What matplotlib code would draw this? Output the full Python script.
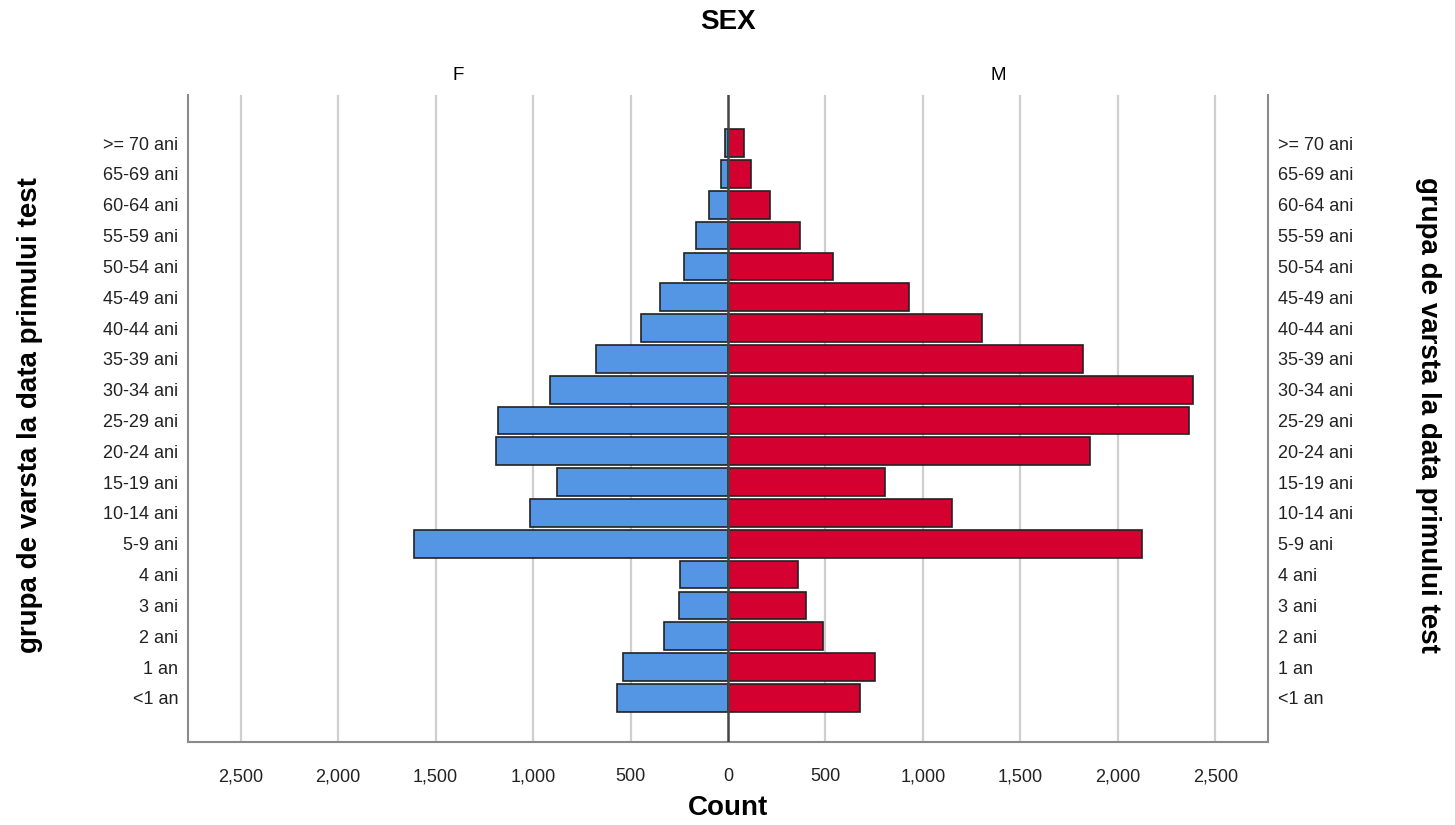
import matplotlib.pyplot as plt, numpy as np

plt.rcParams['font.family'] = ['Liberation Sans', 'DejaVu Sans']

# age groups, bottom to top
groups = ['<1 an', '1 an', '2 ani', '3 ani', '4 ani', '5-9 ani', '10-14 ani', '15-19 ani',
          '20-24 ani', '25-29 ani', '30-34 ani', '35-39 ani', '40-44 ani', '45-49 ani',
          '50-54 ani', '55-59 ani', '60-64 ani', '65-69 ani', '>= 70 ani']
female = [569, 537, 328, 249, 244, 1609, 1014, 877, 1190, 1178, 915, 679, 446, 347,
          225, 163, 100, 38, 15]
male   = [678, 752, 485, 398, 361, 2126, 1149, 805, 1858, 2367, 2383, 1819, 1303, 928,
          540, 371, 218, 118, 80]
ticks = [-2500, -2000, -1500, -1000, -500, 0, 500, 1000, 1500, 2000, 2500]

blue, red = '#5596E4', '#D4002F'

fig = plt.figure(figsize=(14.55, 8.25), dpi=100)
ax = fig.add_axes([188/1455, 1-742/825, 1080/1455, 647/825])

y = np.arange(len(groups))
ax.barh(y, -np.array(female), height=0.9, color=blue, edgecolor='#222222', linewidth=1.2, zorder=3)
ax.barh(y, male, height=0.9, color=red, edgecolor='#222222', linewidth=1.2, zorder=3)
ax.axvline(0, color='#444444', lw=1.8, zorder=4)

ax.set_xlim(-2770, 2770)
ax.set_ylim(-1.43, len(groups) - 1 + 1.56)
ax.set_xticks(ticks)
ax.set_xticklabels(['{:,}'.format(abs(t)) for t in ticks], fontsize=13, color='#222222')
ax.set_yticks(y)
ax.set_yticklabels(groups, fontsize=13, color='#222222')
ax.tick_params(axis='x', length=0, pad=19)
ax.tick_params(axis='y', length=0, pad=7, labelleft=True, labelright=True)
for t in ticks:
    if t != 0:
        ax.axvline(t, color='#CFCFCF', lw=1.6, zorder=1)

ax.spines['top'].set_visible(False)
for s in ['left', 'right', 'bottom']:
    ax.spines[s].set_color('#8A8A8A')
    ax.spines[s].set_linewidth(1.5)

fig.text(728/1455, 1-22/825, 'SEX', ha='center', va='center', fontsize=20, fontweight='bold')
fig.text(458/1455, 1-75/825, 'F', ha='center', va='center', fontsize=13.5)
fig.text(998/1455, 1-75/825, 'M', ha='center', va='center', fontsize=13.5)
fig.text(728/1455, 1-808/825, 'Count', ha='center', va='center', fontsize=20, fontweight='bold')
title = 'grupa de varsta la data primului test'
fig.text(30/1455, 1-415/825, title, rotation=90, ha='center', va='center', fontsize=20, fontweight='bold')
fig.text(1428/1455, 1-415/825, title, rotation=270, ha='center', va='center', fontsize=20, fontweight='bold')

plt.savefig('out.png', dpi=100)
